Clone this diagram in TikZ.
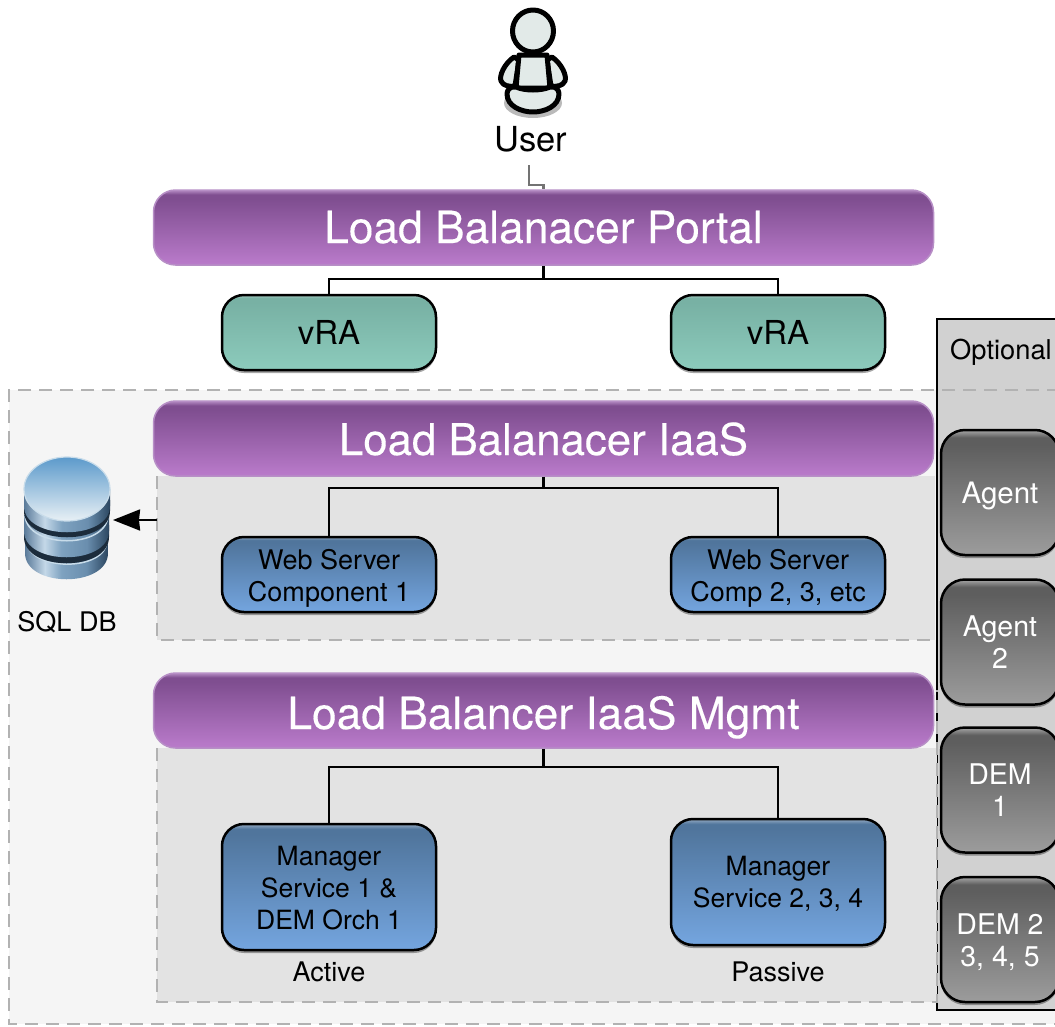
\documentclass[tikz,border=0pt]{standalone}
\usepackage{fontspec}
\setmainfont{TeX Gyre Heros}
\newfontfamily\heavyfont[FakeBold=0.25]{TeX Gyre Heros}
\usetikzlibrary{shadows,arrows.meta}
\definecolor{pbot}{HTML}{BA7BCB}
\definecolor{ptop}{HTML}{7F4E90}
\definecolor{pedge}{HTML}{B78FC6}
\definecolor{plite}{HTML}{B58CC4}
\definecolor{tbot}{HTML}{8CCBBC}
\definecolor{ttop}{HTML}{78B1A4}
\definecolor{blbot}{HTML}{74A5DF}
\definecolor{bltop}{HTML}{50759C}
\definecolor{gbot}{HTML}{9C9C9C}
\definecolor{gtop}{HTML}{5E5E5E}
\definecolor{glite}{HTML}{A8A8A8}
\definecolor{skin}{HTML}{E2EAE8}
\definecolor{dbdark}{HTML}{1C2C3C}
\definecolor{dbrim}{HTML}{C8DCEA}
\definecolor{dbtop}{HTML}{5C9ACB}
\definecolor{dbbot}{HTML}{E8F0F5}
\definecolor{dba}{HTML}{5A7A99}
\definecolor{dbb}{HTML}{C4D8E8}
\definecolor{dbc}{HTML}{7EA2C0}
\definecolor{dbd}{HTML}{6A8EAE}
\definecolor{dbe}{HTML}{2B4660}
\pgfdeclarehorizontalshading{dbshade}{100bp}{color(0bp)=(dba); color(25bp)=(dba); color(37bp)=(dbb); color(47bp)=(dbc); color(62bp)=(dbd); color(75bp)=(dbe); color(100bp)=(dbe)}
\pgfdeclareverticalshading{barshade}{100bp}{color(0bp)=(pbot); color(25bp)=(pbot); color(69bp)=(ptop); color(72bp)=(ptop); color(75bp)=(plite); color(100bp)=(plite)}
\pgfdeclareverticalshading{tealshade}{100bp}{color(0bp)=(tbot); color(25bp)=(tbot); color(70bp)=(ttop); color(73bp)=(ttop); color(75bp)=(ttop!60!white); color(100bp)=(ttop!60!white)}
\pgfdeclareverticalshading{blueshade}{100bp}{color(0bp)=(blbot); color(25bp)=(blbot); color(71bp)=(bltop); color(73bp)=(bltop); color(75bp)=(bltop!60!white); color(100bp)=(bltop!60!white)}
\pgfdeclareverticalshading{greyshade}{100bp}{color(0bp)=(gbot); color(25bp)=(gbot); color(69bp)=(gtop); color(72bp)=(gtop); color(75bp)=(glite); color(100bp)=(glite)}
\newcommand\padtop[1]{\rule{0pt}{#1}}
\tikzset{
  softshadow/.style={drop shadow={shadow xshift=0pt,shadow yshift=-3pt,opacity=.35,fill=black}},
  lbbar/.style={rounded corners=22pt,draw=pedge,line width=1.5pt,shading=barshade,minimum width=780pt,minimum height=75pt,inner sep=0pt,text=white,text depth=0pt,font=\heavyfont\fontsize{44.3}{48}\selectfont},
  teal/.style={rounded corners=22pt,draw=black,line width=2.5pt,shading=tealshade,softshadow,minimum width=214pt,minimum height=75pt,inner sep=0pt,font=\fontsize{33}{36}\selectfont},
  webbox/.style={rounded corners=22pt,draw=black,line width=2.5pt,shading=blueshade,softshadow,minimum width=214pt,minimum height=75pt,inner sep=0pt,align=center,font=\fontsize{27}{32}\selectfont},
  mgrbox/.style={webbox,minimum height=126pt,font=\fontsize{26.5}{32}\selectfont},
  optbox/.style={rounded corners=24pt,draw=black,line width=2.5pt,shading=greyshade,softshadow,minimum width=118pt,minimum height=125pt,inner sep=0pt,align=center,text=white,font=\fontsize{28.5}{32}\selectfont},
  plainlabel/.style={inner sep=0pt,align=center,font=\fontsize{27}{30}\selectfont},
  zone/.style={draw=none,fill=#1},
  dashline/.style={draw=black!30,line width=2.4pt,dash pattern=on 13pt off 8pt},
  wire/.style={draw=black,line width=2.4pt},
  person/.style={draw=black,line width=5pt,line join=round,fill=skin},
  dbdisc/.style={shading=dbshade},
  dbgap/.style={fill=dbdark},
  dbline/.style={draw=dbrim,line width=1.5pt},
}
\begin{document}
\begin{tikzpicture}[x=1pt,y=-1pt]
\useasboundingbox (0,0) rectangle (1055,1026);
\clip (0,0) rectangle (1055,1026);
% zones
\fill[zone=black!4] (9,390) rectangle (1060,1024);
\node[draw=black,line width=2.5pt,fill=black!18,minimum width=130pt,minimum height=691pt,inner sep=0pt] (panel) at (1002,664.5) {};
\node[zone=black!11,minimum width=778pt,minimum height=164pt,inner sep=0pt] (zonea) at (546,558) {};
\node[zone=black!11,minimum width=780pt,minimum height=254pt,inner sep=0pt] (zoneb) at (547,875) {};
\draw[dashline] (1060,390) -- (9,390) -- (9,1024) -- (1060,1024);
\draw[dashline] (157,476) -- (157,640) -- (935,640);
\draw[dashline] (157,748) -- (157,1002) -- (937,1002) -- (937,690);
% optional column
\node[plainlabel,font=\fontsize{27.3}{30}\selectfont] (optlabel) at (1001,352) {Optional};
\node[optbox,font=\fontsize{29.5}{32}\selectfont] (agenta) at (1000,492.5) {\padtop{29pt}Agent};
\node[optbox] (agentb) at (1000,642) {Agent\\2};
\node[optbox] (demone) at (1000,790) {DEM\\1};
\node[optbox] (demtwo) at (1000,939.5) {\padtop{26pt}DEM 2\\3, 4, 5};
% load balancers
\node[lbbar,text height=31pt] (lbportal) at (543.5,227.5) {Load Balanacer Portal};
\node[lbbar,text height=33pt,font=\heavyfont\fontsize{43.8}{48}\selectfont] (lbiaas) at (543.5,438.5) {Load Balanacer IaaS};
\node[lbbar,text height=37pt] (lbmgmt) at (543.5,710.5) {Load Balancer IaaS Mgmt};
% servers
\node[teal] (vraa) at (329,332.5) {vRA};
\node[teal] (vrab) at (778,332.5) {vRA};
\node[webbox] (weba) at (329,574.5) {\padtop{28pt}Web Server\\Component 1};
\node[webbox] (webb) at (778,574.5) {\padtop{28pt}Web Server\\Comp 2, 3, etc};
\node[mgrbox] (mgra) at (329,887) {\padtop{21pt}Manager\\Service 1 \&\\DEM Orch 1};
\node[mgrbox] (mgrb) at (778,882) {\padtop{23pt}Manager\\Service 2, 3, 4};
\node[plainlabel] (active) at (329,972) {Active};
\node[plainlabel] (passive) at (778,972) {Passive};
% connectors
\coordinate (ja) at (543.5,279);
\coordinate (jb) at (543.5,488);
\coordinate (jc) at (543.5,767);
\draw[wire] (lbportal.south) -- (ja);
\draw[wire] (vraa.north) |- (ja) -| (vrab.north);
\draw[wire] (lbiaas.south) -- (jb);
\draw[wire] (weba.north) |- (jb) -| (webb.north);
\draw[wire] (lbmgmt.south) -- (jc);
\draw[wire] (mgra.north) |- (jc) -| (mgrb.north);
% user
\fill[black!60,opacity=.45] (533,103) ellipse [x radius=29,y radius=15];
\draw[person] (514,57) .. controls (504,64) and (499,76) .. (501,81) .. controls (503,86) and (510,87) .. (515,86) -- (519,60) -- cycle;
\draw[person] (552,57) .. controls (562,64) and (567,76) .. (565,81) .. controls (563,86) and (556,87) .. (551,86) -- (547,60) -- cycle;
\draw[person] (519,55) -- (547,55) -- (550,88) -- (516,88) -- cycle;
\draw[person] (516,87) .. controls (525,91) and (541,91) .. (550,87) .. controls (556,86) and (559,90) .. (559,94) .. controls (559,106) and (545,112) .. (533,112) .. controls (521,112) and (507,106) .. (507,94) .. controls (507,90) and (510,86) .. (516,87) -- cycle;
\draw[person] (533,31) ellipse [x radius=20.5,y radius=21];
\node[inner sep=0pt,font=\fontsize{34.5}{38}\selectfont] (user) at (531,139) {User};
\coordinate (bendu) at (529,185);
\draw[draw=black!55,line width=2.2pt] (bendu |- 0,165) -- (bendu) -| (lbportal.north);
% database
\node[minimum width=88pt,minimum height=124pt,inner sep=0pt] (db) at (67,518) {};
\path[dbdisc] (25,540) -- (25,553) .. controls (25,588) and (108,588) .. (108,553) -- (108,540) -- cycle;
\draw[dbline] (26,540) .. controls (28,572) and (106,572) .. (107,541);
\path[dbgap] (24,525) -- (24,537) .. controls (24,572) and (109,572) .. (109,537) -- (109,525) -- cycle;
\path[dbdisc] (24,515) -- (24,531) .. controls (24,566) and (109,566) .. (109,531) -- (109,515) -- cycle;
\draw[dbline] (25,516) .. controls (28,549) and (106,549) .. (108,516);
\path[dbgap] (24,500) -- (24,511) .. controls (24,546) and (110,546) .. (110,511) -- (110,500) -- cycle;
\path[dbdisc] (24,489) -- (24,506) .. controls (24,541) and (110,541) .. (110,506) -- (110,489) -- cycle;
\path[shading angle=-15,top color=dbtop,bottom color=dbbot,draw=dbrim,line width=1.2pt] (67,489) ellipse [x radius=43,y radius=32];
\node[plainlabel] (sqllabel) at (67,622) {SQL DB};
\coordinate (dbin) at (113,520);
\draw[wire,-{Stealth[length=27pt,width=21pt,inset=1pt]}] (dbin -| zonea.west) -- (dbin);
\end{tikzpicture}
\end{document}
